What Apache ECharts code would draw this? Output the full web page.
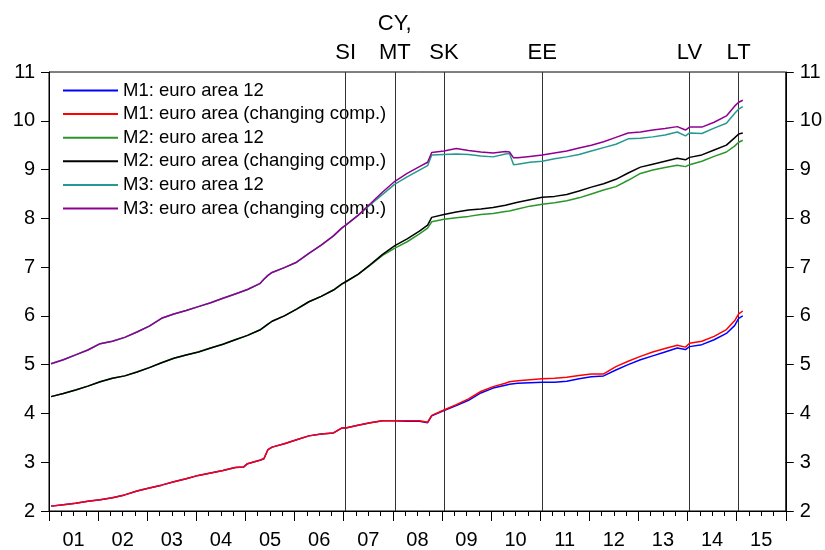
<!DOCTYPE html>
<html>
<head>
<meta charset="utf-8">
<script src="https://cdn.jsdelivr.net/npm/echarts@6/dist/echarts.min.js"></script>
<style>
  html, body { margin: 0; padding: 0; background: #fff; }
  #chart { width: 825px; height: 550px; }
</style>
</head>
<body>
<div id="chart"></div>
<script>
// observation months (monthly data, read at quarters + turning points)
var months = [
  '2001-01','2001-04','2001-07','2001-10','2002-01','2002-04','2002-07','2002-10',
  '2003-01','2003-04','2003-07','2003-10','2004-01','2004-04','2004-07','2004-10',
  '2004-12','2005-01','2005-04','2005-05','2005-06','2005-07','2005-10','2006-01',
  '2006-04','2006-07','2006-10','2006-12','2007-01','2007-04','2007-07','2007-10',
  '2008-01','2008-04','2008-07','2008-09','2008-10','2009-01','2009-04','2009-07',
  '2009-10','2010-01','2010-04','2010-05','2010-06','2010-07','2010-10','2011-01',
  '2011-04','2011-07','2011-10','2012-01','2012-04','2012-07','2012-10','2013-01',
  '2013-04','2013-07','2013-10','2013-12','2014-01','2014-04','2014-07','2014-10',
  '2014-12','2015-01','2015-02'
];

var m1EA12 = [
  2.10,2.13,2.16,2.20,2.23,2.27,2.33,2.41,
  2.47,2.53,2.60,2.66,2.73,2.78,2.83,2.89,
  2.90,2.97,3.04,3.07,3.26,3.31,3.38,3.46,
  3.54,3.58,3.60,3.70,3.70,3.76,3.81,3.85,
  3.85,3.84,3.84,3.81,3.95,4.06,4.16,4.27,
  4.42,4.52,4.58,4.60,4.61,4.62,4.63,4.64,
  4.64,4.66,4.71,4.75,4.77,4.89,5.00,5.10,
  5.18,5.26,5.34,5.31,5.37,5.41,5.51,5.64,
  5.80,5.95,6.00
];
var m1Changing = [
  2.10,2.13,2.16,2.20,2.23,2.27,2.33,2.41,
  2.47,2.53,2.60,2.66,2.73,2.78,2.83,2.89,
  2.90,2.97,3.04,3.07,3.26,3.31,3.38,3.46,
  3.54,3.58,3.60,3.70,3.70,3.76,3.81,3.85,
  3.85,3.85,3.85,3.82,3.96,4.07,4.18,4.30,
  4.45,4.55,4.62,4.65,4.66,4.67,4.69,4.71,
  4.72,4.74,4.78,4.81,4.81,4.96,5.07,5.17,
  5.26,5.33,5.40,5.36,5.44,5.48,5.58,5.72,
  5.90,6.04,6.10
];
var m2EA12 = [
  4.345,4.41,4.48,4.56,4.65,4.72,4.77,4.85,
  4.94,5.04,5.13,5.20,5.26,5.34,5.42,5.51,
  5.57,5.60,5.71,5.77,5.83,5.89,6.00,6.14,
  6.29,6.40,6.53,6.65,6.70,6.85,7.04,7.24,
  7.39,7.52,7.68,7.80,7.93,7.98,8.01,8.04,
  8.08,8.10,8.14,8.15,8.17,8.19,8.25,8.29,
  8.32,8.36,8.42,8.50,8.58,8.65,8.78,8.92,
  8.99,9.04,9.09,9.06,9.10,9.17,9.27,9.36,
  9.48,9.56,9.60
];
var m2Changing = [
  4.345,4.41,4.48,4.56,4.65,4.72,4.77,4.85,
  4.94,5.04,5.13,5.20,5.26,5.34,5.42,5.51,
  5.57,5.60,5.71,5.77,5.83,5.89,6.00,6.14,
  6.29,6.40,6.53,6.65,6.70,6.85,7.05,7.26,
  7.44,7.58,7.74,7.86,8.02,8.08,8.13,8.17,
  8.19,8.22,8.27,8.29,8.31,8.33,8.38,8.43,
  8.45,8.49,8.56,8.64,8.71,8.80,8.93,9.05,
  9.11,9.17,9.23,9.20,9.25,9.30,9.40,9.50,
  9.65,9.73,9.75
];
var m3EA12 = [
  5.02,5.10,5.20,5.30,5.43,5.48,5.56,5.67,
  5.79,5.95,6.04,6.11,6.19,6.27,6.36,6.45,
  6.51,6.54,6.66,6.75,6.83,6.89,6.99,7.10,
  7.28,7.45,7.64,7.80,7.86,8.06,8.28,8.49,
  8.70,8.85,8.99,9.08,9.30,9.31,9.32,9.31,
  9.28,9.26,9.32,9.33,9.10,9.11,9.15,9.17,
  9.22,9.26,9.31,9.38,9.45,9.52,9.63,9.64,
  9.67,9.71,9.77,9.69,9.75,9.74,9.85,9.95,
  10.15,10.24,10.29
];
var m3Changing = [
  5.02,5.10,5.20,5.30,5.43,5.48,5.56,5.67,
  5.79,5.95,6.04,6.11,6.19,6.27,6.36,6.45,
  6.51,6.54,6.66,6.75,6.83,6.89,6.99,7.10,
  7.28,7.45,7.64,7.80,7.86,8.06,8.30,8.54,
  8.76,8.92,9.06,9.15,9.35,9.38,9.43,9.39,
  9.36,9.34,9.37,9.36,9.24,9.24,9.27,9.30,
  9.34,9.38,9.44,9.50,9.57,9.66,9.75,9.77,
  9.81,9.84,9.88,9.81,9.87,9.87,9.97,10.10,
  10.30,10.38,10.42
];

// euro area enlargements (vertical lines)
var joinMonths = ['2007-01','2008-01','2009-01','2011-01','2014-01','2015-01'];
var joinLabels = ['SI','CY,\nMT','SK','EE','LV','LT'];

var yearLabels = ['01','02','03','04','05','06','07','08','09','10','11','12','13','14','15'];
var yTicks = [2, 11];

function toYear(m) {
  var p = m.split('-');
  return +p[0] + (+p[1] - 0.5) / 12;
}
function pairs(vals) {
  return months.map(function (m, i) { return [toYear(m), vals[i]]; });
}

var seriesDefs = [
  { name: 'M1: euro area 12', data: m1EA12, color: '#0000ff' },
  { name: 'M1: euro area (changing comp.)', data: m1Changing, color: '#ff0000' },
  { name: 'M2: euro area 12', data: m2EA12, color: '#2a962a' },
  { name: 'M2: euro area (changing comp.)', data: m2Changing, color: '#000000' },
  { name: 'M3: euro area 12', data: m3EA12, color: '#24998f' },
  { name: 'M3: euro area (changing comp.)', data: m3Changing, color: '#900090' }
];

var font = 'Liberation Sans, Arial, sans-serif';

var series = seriesDefs.map(function (d) {
  return {
    name: d.name,
    type: 'line',
    data: pairs(d.data),
    symbol: 'none',
    showSymbol: false,
    color: d.color,
    lineStyle: { color: d.color, width: 1.5 },
    z: 3,
    silent: true
  };
});

series[0].markLine = {
  silent: true,
  symbol: 'none',
  z: 2,
  lineStyle: { color: '#333', width: 1, type: 'solid' },
  label: {
    show: true,
    position: 'end',
    formatter: '{b}',
    color: '#000',
    fontFamily: font,
    fontSize: 22,
    lineHeight: 29,
    distance: 5
  },
  data: joinMonths.map(function (m, i) {
    return { xAxis: toYear(m), name: joinLabels[i] };
  })
};

var myChart = echarts.init(document.getElementById('chart'), null, { renderer: 'canvas' });

var yAxisBase = {
  type: 'value',
  min: yTicks[0],
  max: yTicks[1],
  interval: 1,
  axisLine: { show: true, lineStyle: { color: '#000', width: 1 } },
  axisTick: { show: true, length: 8, lineStyle: { color: '#000' } },
  axisLabel: { color: '#000', fontFamily: font, fontSize: 20, margin: 14 },
  splitLine: { show: false }
};

var option = {
  animation: false,
  backgroundColor: '#fff',
  grid: {
    left: 49, right: 38, top: 72, bottom: 36,
    show: true, borderColor: '#000', borderWidth: 1
  },
  legend: {
    orient: 'vertical',
    left: 58,
    top: 76,
    z: 1,
    icon: 'rect',
    itemWidth: 55,
    itemHeight: 2,
    itemGap: 4.6,
    selectedMode: false,
    textStyle: {
      color: '#000', fontFamily: font, fontSize: 18.5, lineHeight: 18
    },
    data: seriesDefs.map(function (d) { return d.name; })
  },
  xAxis: [
    {
      type: 'value',
      min: 2001,
      max: 2016,
      interval: 1,
      axisLine: { show: true, onZero: false, lineStyle: { color: '#000', width: 1 } },
      axisTick: { show: true, length: 10, lineStyle: { color: '#000' } },
      minorTick: { show: true, splitNumber: 4, length: 5, lineStyle: { color: '#000' } },
      axisLabel: { show: false },
      splitLine: { show: false }
    },
    {
      type: 'category',
      position: 'bottom',
      data: yearLabels,
      boundaryGap: true,
      axisLine: { show: false },
      axisTick: { show: false },
      axisLabel: { color: '#000', fontFamily: font, fontSize: 20, margin: 19 },
      splitLine: { show: false }
    }
  ],
  yAxis: [
    Object.assign({}, yAxisBase, { position: 'left' }),
    Object.assign({}, yAxisBase, { position: 'right' })
  ],
  series: series
};

myChart.setOption(option);
</script>
</body>
</html>
